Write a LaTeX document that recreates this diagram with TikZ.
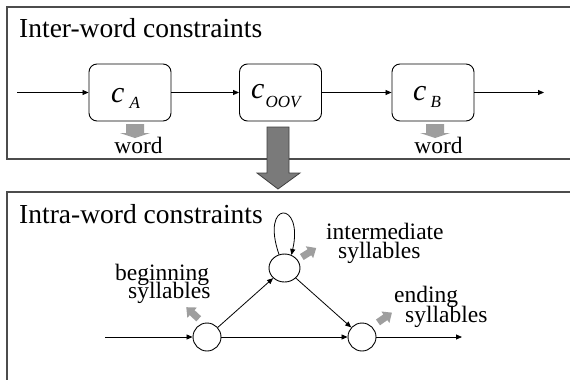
\documentclass[tikz,border=0pt]{standalone}
\usepackage{fontspec}
\setmainfont{Liberation Serif}
\usetikzlibrary{arrows.meta,shapes.geometric}
\newcommand\cvar[3]{{\fontsize{30}{30}\selectfont\itshape c}\kern#3{\fontsize{17}{17}\selectfont\itshape\raisebox{#2}{#1}}}
\begin{document}
\begin{tikzpicture}[x=1pt,y=-1pt,
  panel/.style={draw=black!70, line width=1.3pt},
  cbox/.style={draw=black, line width=0.9pt, rounded corners=8pt, minimum width=82pt, minimum height=57pt, inner sep=0pt, fill=white},
  conn/.style={line width=0.8pt, -{Triangle[length=6pt,width=5pt]}},
  state/.style={circle, draw, line width=0.9pt, minimum size=28pt, inner sep=0pt},
  ostate/.style={ellipse, draw, line width=0.9pt, minimum width=31pt, minimum height=28pt, inner sep=0pt},
  lbl/.style={font=\fontsize{23.5}{23.5}\selectfont, inner sep=0pt},
  ttl/.style={font=\fontsize{27.5}{27.5}\selectfont, inner sep=0pt, anchor=base west},
  ctext/.style={inner sep=0pt, anchor=base west},
  smallarrow/.style={fill=black!38},
  bigarrow/.style={fill=black!52, draw=black!75, line width=0.8pt}]
\useasboundingbox (0,0) rectangle (570,380);
\fill[white] (0,0) rectangle (570,380);
\clip (0,0) rectangle (570,380);
% panels
\draw[panel] (7,7) rectangle (585,159);
\draw[panel] (7,192) rectangle (585,400);
\node[ttl] (t1) at (19,37) {Inter-word constraints};
\node[ttl] (t2) at (19,223) {Intra-word constraints};
% top row
\coordinate (in0) at (17,92.5);
\coordinate (out0) at (544,92.5);
\node[cbox] (cA) at (130,92.5) {};
\node[cbox] (cOOV) at (280.5,92.5) {};
\node[cbox] (cB) at (433,92.5) {};
\node[ctext] (cAt) at (111,102) {\cvar{A}{-6pt}{5pt}};
\node[ctext] (cOOVt) at (251,98) {\cvar{OOV}{-9pt}{1pt}};
\node[ctext] (cBt) at (413,100) {\cvar{B}{-7pt}{4pt}};
\draw[conn] (in0) -- (cA);
\draw[conn] (cA) -- (cOOV);
\draw[conn] (cOOV) -- (cB);
\draw[conn] (cB) -- (out0);
% small arrows + word
\fill[smallarrow] (126,124) -- (144,124) -- (144,133) -- (150,133) -- (135,138) -- (120,133) -- (126,133) -- cycle;
\fill[smallarrow] (426,124) -- (444,124) -- (444,133) -- (450,133) -- (435,138) -- (420,133) -- (426,133) -- cycle;
\node[lbl, anchor=base] (w1) at (138.5,153) {word};
\node[lbl, anchor=base] (w2) at (438.5,153) {word};
% big arrow
\filldraw[bigarrow] (267,127) -- (289,127) -- (289,173) -- (300,173) -- (278,189) -- (257,173) -- (267,173) -- cycle;
% bottom graph
\coordinate (in1) at (105,337);
\coordinate (out1) at (462,337);
\node[state] (s1) at (207,337) {};
\node[ostate] (s2) at (284.5,268) {};
\node[state] (s3) at (362,337) {};
\draw[conn] (in1) -- (s1);
\draw[conn] (s1) -- (s2);
\draw[conn] (s2) -- (s3);
\draw[conn] (s1) -- (s3);
\draw[conn] (s3) -- (out1);
\draw[conn] (s2.112) .. controls (260,200) and (304,200) .. (s2.62);
% grey state arrows
\fill[smallarrow, shift={(198.7,318.8)}, rotate=137] (0,-3.5) -- (9,-3.5) -- (9,-7) -- (17,0) -- (9,7) -- (9,3.5) -- (0,3.5) -- cycle;
\fill[smallarrow, shift={(301.8,257)}, rotate=32] (0,-3.5) -- (9,-3.5) -- (9,-7) -- (17,0) -- (9,7) -- (9,3.5) -- (0,3.5) -- cycle;
\fill[smallarrow, shift={(378,322.4)}, rotate=35] (0,-3.5) -- (9,-3.5) -- (9,-7) -- (17,0) -- (9,7) -- (9,3.5) -- (0,3.5) -- cycle;
% labels
\node[lbl, anchor=base west] (b1) at (115,280) {beginning};
\node[lbl, anchor=base west] (b2) at (128,298) {syllables};
\node[lbl, anchor=base west] (i1) at (326,239) {intermediate};
\node[lbl, anchor=base west] (i2) at (338,258) {syllables};
\node[lbl, anchor=base west] (e1) at (394,302) {ending};
\node[lbl, anchor=base west] (e2) at (405,322) {syllables};
\end{tikzpicture}
\end{document}
